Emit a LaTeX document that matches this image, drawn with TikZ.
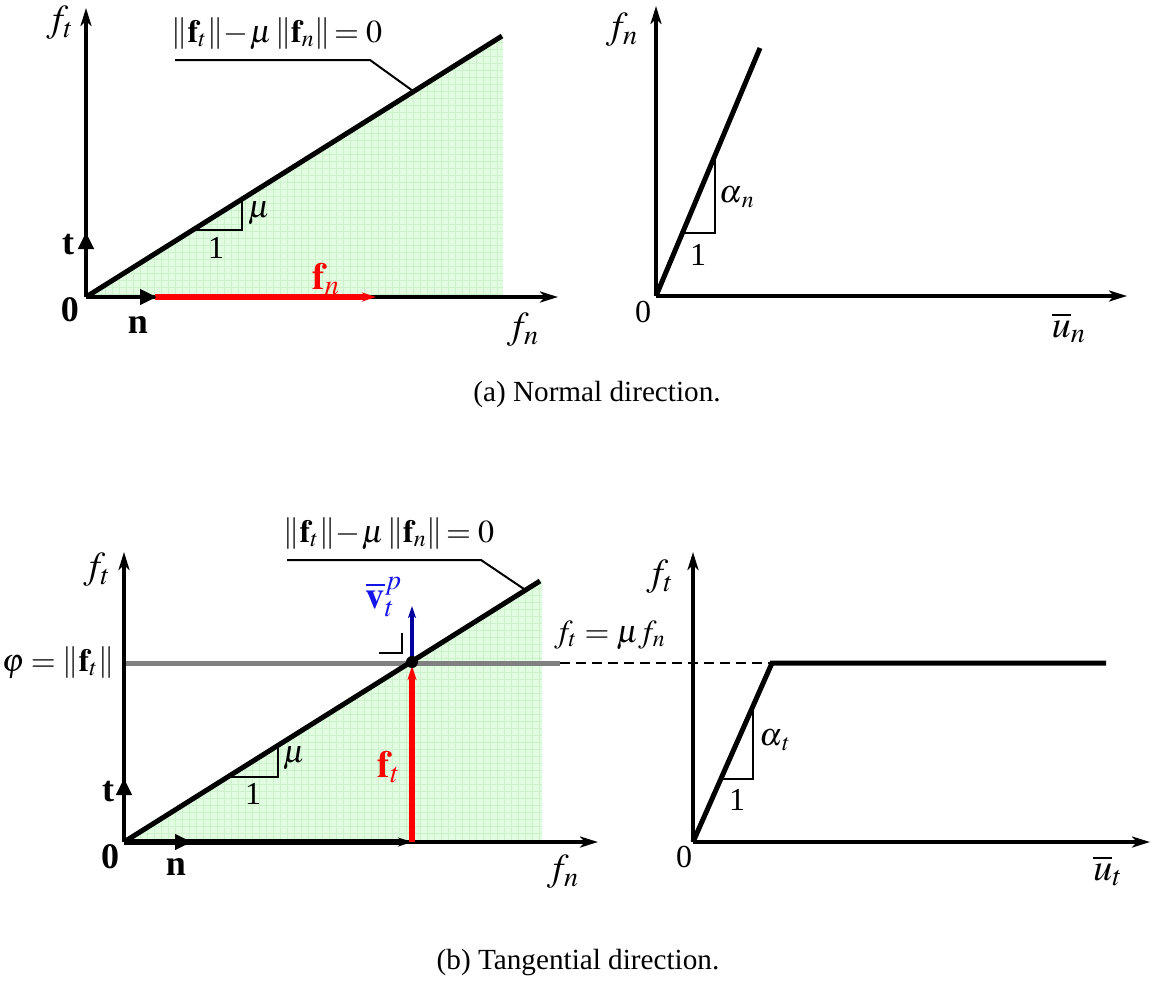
\documentclass[tikz,border=0pt]{standalone}
\usepackage{mathptmx}
\usepackage{fontspec}
\setmainfont{Liberation Serif}
\usepackage{xcolor}
\definecolor{RegionGreen}{RGB}{226,252,226}
\definecolor{GridGreen}{RGB}{204,242,204}
\definecolor{LineGrey}{RGB}{128,128,128}
\definecolor{VecBlue}{RGB}{0,0,160}
\definecolor{LabelBlue}{RGB}{20,20,235}
\usetikzlibrary{calc,arrows.meta}

\begin{document}
\begin{tikzpicture}[x=0.5pt, y=-0.5pt,
  every node/.style={font=\fontsize{16}{18}\selectfont, inner sep=0pt},
  axislabel/.style={font=\fontsize{19}{21}\selectfont},
  veclabel/.style={font=\fontsize{18}{20}\selectfont\bfseries},
  axisline/.style={line width=2pt, -{Stealth[length=9pt,width=5.5pt,inset=2.5pt]}},
  unitvec/.style={line width=2.4pt, -{Triangle[length=8.5pt,width=7.5pt]}},
  forcevec/.style={line width=2.6pt, -{Stealth[length=7pt,width=4.5pt,inset=2pt]}},
  slopeline/.style={line width=2.5pt},
  thinline/.style={line width=1pt},
  region/.style={fill=RegionGreen},
  caption/.style={font=\fontsize{14.6}{17}\selectfont}]
  \useasboundingbox (0,0) rectangle (1168,981);

  % (a) normal direction -- friction cone
  \coordinate (oa) at (86,297);
  \coordinate (ea) at (502,36);
  \fill[region] (oa) -- (503,36) -- (503,297) -- cycle;
  \begin{scope}
    \clip (oa) -- (503,36) -- (503,297) -- cycle;
    \draw[GridGreen, line width=0.3pt, step=3.5pt] (86,297) grid (503,36);
  \end{scope}
  \draw[axisline] (oa) -- (86,8);
  \draw[axisline] (oa) -- (558,297);
  \draw[slopeline] (oa) -- (ea);
  \draw[forcevec, red] (155,297) -- (376,297);
  \draw[unitvec] (oa) -- (86,232);
  \draw[unitvec] (oa) -- (157,297);
  \draw[thinline] (193,230) -- (242,230) -- (242,199);
  \draw[thinline] (175,60) -- (370,60) -- (413,91);
  \node[axislabel] (fta) at (60,23) {$f_t$};
  \node[axislabel] (fna) at (523,330) {$f_n$};
  \node[veclabel] (ta) at (68,245) {t};
  \node[veclabel] (na) at (138,325) {n};
  \node[veclabel] (za) at (70,310) {0};
  \node[axislabel, red] (fvec) at (326,279) {$\mathbf{f}_n$};
  \node (mua) at (259,213) {$\mu$};
  \node (onea) at (216,248) {1};
  \node (conea) at (277,34) {$\left\|\mathbf{f}_t\right\|\!-\!\mu\left\|\mathbf{f}_n\right\|\!=0$};

  % (a) normal direction -- penalty law
  \coordinate (ob) at (656,296);
  \coordinate (eb) at (760,48);
  \draw[axisline] (ob) -- (656,6);
  \draw[axisline] (ob) -- (1127,296);
  \draw[slopeline] (ob) -- (eb);
  \draw[thinline] (682,233) -- (715,233) -- (715,158);
  \node[axislabel] (fnb) at (622,30) {$f_n$};
  \node[axislabel] (unb) at (1069,328) {$\overline{u}_n$};
  \node (zb) at (643,312) {0};
  \node (alb) at (737,197) {$\alpha_{\,n}$};
  \node (oneb) at (698,255) {1};
  \node[caption] (capa) at (597,394) {(a) Normal direction.};

  % (b) tangential direction -- return mapping
  \coordinate (oc) at (124,842);
  \coordinate (ec) at (540,581);
  \coordinate (pc) at (412,662);
  \fill[region] (oc) -- (542,580) -- (542,842) -- cycle;
  \begin{scope}
    \clip (oc) -- (542,580) -- (542,842) -- cycle;
    \draw[GridGreen, line width=0.3pt, step=3.5pt] (124,842) grid (542,580);
  \end{scope}
  \draw[line width=2.5pt, LineGrey] (124,663) -- (560,663);
  \draw[thinline, dash pattern=on 5pt off 3pt] (560,663) -- (772,663);
  \draw[axisline] (oc) -- (124,552);
  \draw[axisline] (oc) -- (598,842);
  \draw[slopeline] (oc) -- (ec);
  \draw[forcevec] (oc) -- (412,842);
  \draw[forcevec, red] (412,842) -- (412,666);
  \draw[line width=1.6pt, VecBlue, -{Stealth[length=6pt,width=4pt,inset=1.5pt]}] (pc) -- (412,606);
  \fill (pc) circle[radius=3pt];
  \draw[unitvec] (oc) -- (124,778);
  \draw[unitvec] (oc) -- (192,842);
  \draw[thinline] (379,653) -- (402,653) -- (402,633);
  \draw[thinline] (228,777) -- (278,777) -- (278,745);
  \draw[thinline] (287,560) -- (481,560) -- (524,589);
  \node[axislabel] (ftc) at (97,570) {$f_t$};
  \node[axislabel] (fnc) at (563,872) {$f_n$};
  \node[veclabel] (tc) at (108,792) {t};
  \node[veclabel] (nc) at (176,867) {n};
  \node[veclabel] (zc) at (110,857) {0};
  \node[axislabel, red] (ftvec) at (389,767) {$\mathbf{f}_t$};
  \node[axislabel, LabelBlue] (vp) at (384,597) {$\overline{\mathbf{v}}_t^p$};
  \node (muc) at (294,758) {$\mu$};
  \node (onec) at (253,794) {1};
  \node (phi) at (58,663) {$\varphi = \left\|\mathbf{f}_t\right\|$};
  \node (conec) at (389,534) {$\left\|\mathbf{f}_t\right\|\!-\!\mu\left\|\mathbf{f}_n\right\|\!=0$};

  % (b) tangential direction -- stick/slip law
  \coordinate (od) at (693,842);
  \coordinate (kd) at (772,663);
  \draw[axisline] (od) -- (693,552);
  \draw[axisline] (od) -- (1150,842);
  \draw[slopeline] (od) -- (kd) -- (1106,663);
  \draw[thinline] (721,779) -- (753,779) -- (753,706);
  \node[axislabel] (ftd) at (660,577) {$f_t$};
  \node (slip) at (610,635) {$f_t = \mu f_n$};
  \node[axislabel] (utd) at (1108,871) {$\overline{u}_t$};
  \node (zd) at (684,857) {0};
  \node (ald) at (775,740) {$\alpha_{\,t}$};
  \node (oned) at (737,800) {1};
  \node[caption] (capb) at (578,963) {(b) Tangential direction.};
\end{tikzpicture}
\end{document}
